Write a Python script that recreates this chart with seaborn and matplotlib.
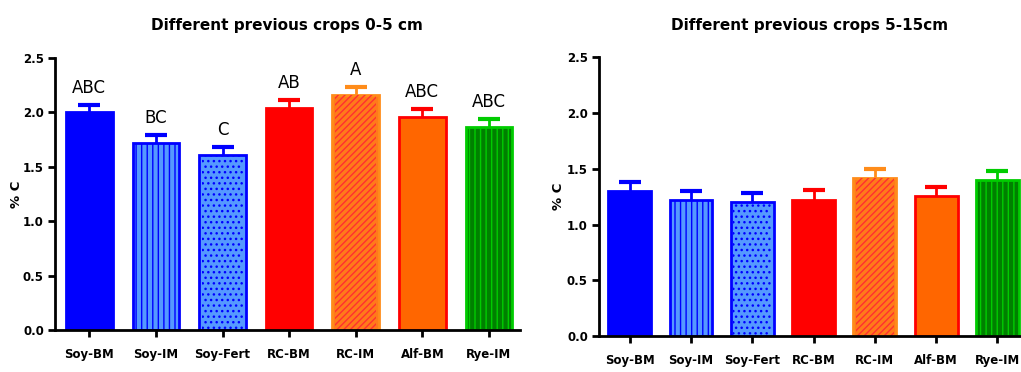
import numpy as np
import pandas as pd
import matplotlib
matplotlib.use("Agg")
import matplotlib.pyplot as plt
import seaborn as sns

categories = ["Soy-BM", "Soy-IM", "Soy-Fert", "RC-BM", "RC-IM", "Alf-BM", "Rye-IM"]
top_means = [2.00, 1.72, 1.61, 2.04, 2.16, 1.96, 1.87]
top_err = [0.07, 0.07, 0.07, 0.07, 0.07, 0.07, 0.07]
top_letters = ["ABC", "BC", "C", "AB", "A", "ABC", "ABC"]
sub_means = [1.30, 1.22, 1.20, 1.22, 1.42, 1.26, 1.40]
sub_err = [0.08, 0.08, 0.08, 0.09, 0.08, 0.08, 0.08]
yticks = [0.0, 0.5, 1.0, 1.5, 2.0, 2.5]
titles = ["Different previous crops 0-5 cm", "Different previous crops 5-15cm"]

faces = ["#0000FF", "#5599FF", "#5599FF", "#FF0000", "#FF7A1A", "#FF6600", "#008000"]
edges = ["#0000FF", "#0000FF", "#0000FF", "#FF0000", "#FF8C1A", "#FF0000", "#00CC00"]
hatch_cols = [None, "#0000FF", "#0000FF", None, "#FF3030", None, "#00CC00"]
hatches = [None, "|||", "...", None, "/////", None, "|||"]
err_cols = ["#0000FF", "#0000FF", "#0000FF", "#FF0000", "#FF8C1A", "#FF0000", "#00CC00"]

sns.set_theme(style="white")
plt.rcParams["font.family"] = ["DejaVu Sans"]
plt.rcParams["text.color"] = "black"
plt.rcParams["axes.labelcolor"] = "black"
plt.rcParams["hatch.linewidth"] = 1.0

fig = plt.figure(figsize=(10.21, 3.72), dpi=100)
ax1 = fig.add_axes([0.0539, 0.1129, 0.455, 0.731])
ax2 = fig.add_axes([0.5867, 0.0968, 0.413, 0.749])


def draw(ax, means, errs, title, letters=None, xlim=(-0.515, 6.46)):
    df = pd.DataFrame({"crop": categories, "C": means})
    sns.barplot(data=df, x="crop", y="C", hue="crop", palette=faces, saturation=1,
                width=0.7, legend=False, ax=ax, errorbar=None)
    for i, p in enumerate(ax.patches[:len(categories)]):
        p.set_facecolor(faces[i])
        p.set_edgecolor(edges[i])
        p.set_linewidth(2.0)
    x = np.arange(len(categories))
    for i in range(len(categories)):
        if hatches[i]:
            ax.bar(x[i], means[i], width=0.62, facecolor="none", edgecolor=hatch_cols[i],
                   linewidth=0, hatch=hatches[i], zorder=2.5)
    for i in range(len(categories)):
        _, caps, _ = ax.errorbar(x[i], means[i], yerr=[[0], [errs[i]]], fmt="none",
                                 ecolor=err_cols[i], elinewidth=2, capsize=8,
                                 capthick=3, zorder=1.5)
        if len(caps) == 2:
            caps[0].set_visible(False)
    if letters:
        for i in range(len(categories)):
            ax.annotate(letters[i], (x[i], means[i] + errs[i]), xytext=(0, 6),
                        textcoords="offset points", ha="center", va="bottom",
                        fontsize=12, color="black")
    ax.set_ylim(0, 2.5)
    ax.set_xlim(*xlim)
    ax.set_yticks(yticks)
    ax.set_yticklabels([f"{v:.1f}" for v in yticks], fontweight="bold", fontsize=8.5)
    ax.set_xticks(x)
    ax.set_xticklabels(categories, fontweight="bold", fontsize=8.5)
    ax.set_xlabel("")
    ax.set_ylabel("% C", fontweight="bold", fontsize=9.5, color="black")
    ax.set_title(title, fontweight="bold", fontsize=11, pad=20, color="black")
    for s in ["top", "right"]:
        ax.spines[s].set_visible(False)
    for s in ["left", "bottom"]:
        ax.spines[s].set_linewidth(2)
        ax.spines[s].set_color("black")
        ax.spines[s].set_zorder(4)
    ax.tick_params(axis="both", direction="out", length=5, width=2, colors="black",
                   left=True, bottom=True, pad=3)
    ax.tick_params(axis="x", pad=8)


draw(ax1, top_means, top_err, titles[0], top_letters)
draw(ax2, sub_means, sub_err, titles[1], None, xlim=(-0.5, 6.38))
ax1.yaxis.set_label_coords(-0.07, 0.5)
ax2.yaxis.set_label_coords(-0.08, 0.5)

fig.savefig("out.png", dpi=100)
